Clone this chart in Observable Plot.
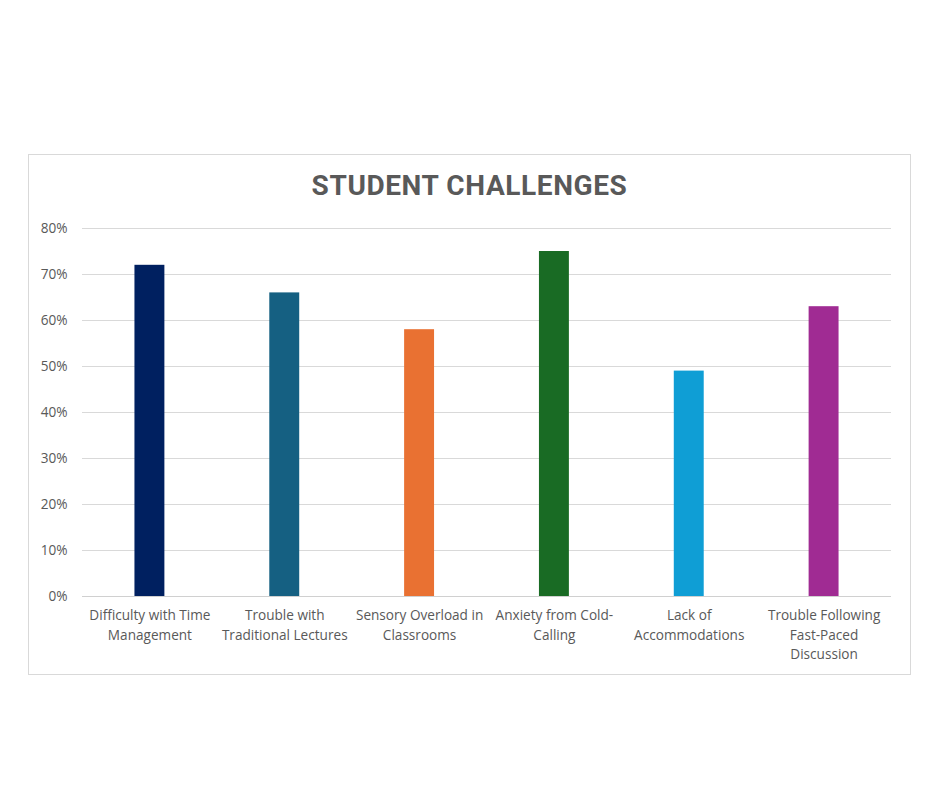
<!DOCTYPE html>
<html>
<head>
<meta charset="utf-8">
<script src="https://cdn.jsdelivr.net/npm/d3@7"></script>
<script src="https://cdn.jsdelivr.net/npm/@observablehq/plot@0.6"></script>
<style>
  body { margin: 0; background: #fff; width: 940px; height: 788px; position: relative; font-family: "Open Sans", sans-serif; }
  #box { position: absolute; left: 28px; top: 154px; width: 881px; height: 519px; border: 1px solid #d9d9d9; background: #fff; }
  #title { position: absolute; left: 0; width: 100%; top: 14px; text-align: center; font-family: Roboto, sans-serif; font-weight: bold; font-size: 28px; color: #595959; letter-spacing: 0.6px; }
  #chart { position: absolute; left: 0; top: 42px; }
</style>
</head>
<body>
<div id="box">
  <div id="title">STUDENT CHALLENGES</div>
  <div id="chart"></div>
</div>
<script>
const categories = [
  "Difficulty with Time Management",
  "Trouble with Traditional Lectures",
  "Sensory Overload in Classrooms",
  "Anxiety from Cold-Calling",
  "Lack of Accommodations",
  "Trouble Following Fast-Paced Discussion"
];
const tickLabels = [
  "Difficulty with Time\nManagement",
  "Trouble with\nTraditional Lectures",
  "Sensory Overload in\nClassrooms",
  "Anxiety from Cold-\nCalling",
  "Lack of\nAccommodations",
  "Trouble Following\nFast-Paced\nDiscussion"
];
const values = [0.72, 0.66, 0.58, 0.75, 0.49, 0.63];
const colors = ["#002060", "#156082", "#E97132", "#196B24", "#0F9ED5", "#A02B93"];
const yTicks = [0, 0.1, 0.2, 0.3, 0.4, 0.5, 0.6, 0.7, 0.8];

const data = categories.map((c, i) => ({category: c, value: values[i], color: colors[i]}));
const labelOf = new Map(categories.map((c, i) => [c, tickLabels[i]]));

const plot = Plot.plot({
  width: 881,
  height: 470,
  marginLeft: 53,
  marginRight: 19,
  marginTop: 31,
  marginBottom: 71,
  style: { fontFamily: "'Open Sans', sans-serif", fontSize: "13.6px", color: "#595959", background: "transparent" },
  x: { domain: categories, paddingInner: 0.778, paddingOuter: 0.389, align: 0.5, round: false },
  y: { domain: [0, 0.8] },
  marks: [
    Plot.gridY(yTicks, { stroke: "#d9d9d9", strokeOpacity: 1 }),
    Plot.barY(data, { x: "category", y: "value", fill: "color" }),
    Plot.ruleY([0], { stroke: "#d0d0d0" }),
    Plot.axisY(yTicks, { tickSize: 0, tickPadding: 15, tickFormat: d3.format(".0%"), label: null, fill: "#595959", fontSize: 13.6 }),
    Plot.axisX({ tickSize: 0, tickPadding: 10, tickFormat: d => labelOf.get(d), label: null, lineHeight: 1.43, fill: "#595959", fontSize: 13.6 })
  ]
});
document.getElementById("chart").appendChild(plot);
</script>
</body>
</html>
